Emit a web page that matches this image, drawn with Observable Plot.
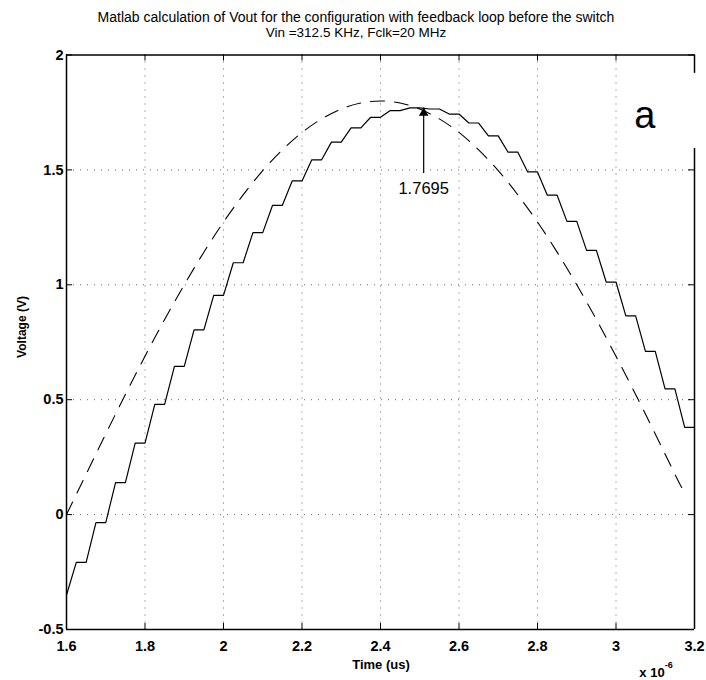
<!DOCTYPE html>
<html><head><meta charset="utf-8">
<script src="https://cdn.jsdelivr.net/npm/d3@7"></script>
<script src="https://cdn.jsdelivr.net/npm/@observablehq/plot@0.6"></script>
<style>
body{margin:0;background:#fff;}
svg{font-family:"Liberation Sans",Arial,Helvetica,sans-serif;}
</style>
</head><body><div id="chart"></div>
<script>
// ---- data ----
const xTicks = [1.6, 1.8, 2.0, 2.2, 2.4, 2.6, 2.8, 3.0, 3.2];   // time (µs, shown as x 10^-6 s)
const yTicks = [-0.5, 0, 0.5, 1, 1.5, 2];                         // voltage (V)

// input sine (dashed)
const inputTime = [1.6,1.65,1.7,1.75,1.8,1.85,1.9,1.95,2.0,2.05,2.1,2.15,2.2,2.25,2.3,2.35,2.4,
                   2.45,2.5,2.55,2.6,2.65,2.7,2.75,2.8,2.85,2.9,2.95,3.0,3.05,3.1,3.15,3.17];
const inputVolt = [0.0,0.176,0.351,0.523,0.689,0.849,1.0,1.142,1.273,1.391,1.497,1.587,1.663,1.722,1.765,1.791,1.8,
                   1.791,1.765,1.722,1.663,1.587,1.497,1.391,1.273,1.142,1.0,0.849,0.689,0.523,0.351,0.176,0.11];

// output staircase (solid): one held level per clock period (Fclk = 20 MHz)
const fclkMHz = 20;
const startTime = 1.6;
const outputStart = -0.35;
const outputLevels = [-0.208,-0.035,0.139,0.311,0.480,0.645,0.804,0.954,1.096,1.227,1.346,1.452,1.544,1.621,1.683,1.729,
                      1.758,1.770,1.765,1.743,1.704,1.648,1.577,1.491,1.390,1.276,1.150,1.012,0.865,0.710,0.547,0.380];

const peakTime = 2.51;
const peakValue = 1.7695;
const arrowBase = 1.484;

// ---- build ----
const period = 1 / fclkMHz; // µs
const stair = [{t: startTime, v: outputStart}];
outputLevels.forEach((v, k) => {
  stair.push({t: startTime + period * k + period / 2, v});
  stair.push({t: startTime + period * (k + 1), v});
});
const input = inputTime.map((t, i) => ({t, v: inputVolt[i]}));

const W = 706, H = 680, mL = 66, mR = 12, mT = 54.5, mB = 51;
const fw = W - mL - mR, fh = H - mT - mB;
const fmt = d => String(d);

const chart = Plot.plot({
  width: W, height: H,
  marginLeft: mL, marginRight: mR, marginTop: mT, marginBottom: mB,
  x: {domain: [1.6, 3.2]},
  y: {domain: [-0.5, 2]},
  style: {background: "white", color: "black", fontFamily: '"Liberation Sans", Arial, sans-serif', overflow: "visible"},
  marks: [
    // dotted grid
    Plot.ruleX(xTicks.slice(1, -1), {stroke: "#666", strokeWidth: 1, strokeDasharray: "1,6"}),
    Plot.ruleY(yTicks.slice(1, -1), {stroke: "#666", strokeWidth: 1, strokeDasharray: "1,6"}),
    // curves
    Plot.line(input, {x: "t", y: "v", curve: "natural", stroke: "black", strokeWidth: 1.1, strokeDasharray: "14,10"}),
    Plot.line(stair, {x: "t", y: "v", stroke: "black", strokeWidth: 1.2}),
    // inward ticks on all four sides
    Plot.ruleX(xTicks, {insetTop: fh - 6, stroke: "black"}),
    Plot.ruleX(xTicks, {insetBottom: fh - 6, stroke: "black"}),
    Plot.ruleY(yTicks, {insetRight: fw - 6, stroke: "black"}),
    Plot.ruleY(yTicks, {insetLeft: fw - 6, stroke: "black"}),
    // box
    Plot.ruleY([-0.5, 2], {stroke: "black", strokeWidth: 1.5}),
    Plot.ruleX([1.6], {stroke: "black", strokeWidth: 1.5}),
    Plot.ruleX([{t: 3.2, a: -0.5, b: 1.593}, {t: 3.2, a: 1.92, b: 2}], {x: "t", y1: "a", y2: "b", stroke: "black", strokeWidth: 1.5}),
    // axes
    Plot.axisX({ticks: xTicks, tickSize: 0, tickPadding: 11, tickFormat: fmt, fontSize: 14.5, fontWeight: "bold", label: null}),
    Plot.axisY({ticks: yTicks, tickSize: 0, tickPadding: 3, tickFormat: fmt, fontSize: 14.5, fontWeight: "bold", label: null}),
    // peak annotation
    Plot.ruleX([{t: peakTime, a: arrowBase, b: peakValue}], {x: "t", y1: "a", y2: "b", stroke: "black", strokeWidth: 1.2}),
    Plot.dot([{t: peakTime, v: peakValue}], {x: "t", y: "v", symbol: "triangle", r: 2.6, fill: "black", stroke: "black", dy: 5}),
    Plot.text([{t: peakTime, v: peakValue}], {x: "t", y: "v", text: d => String(d.v), dy: 80.5, fontSize: 16.5}),
    Plot.text(["a"], {frameAnchor: "top-right", text: d => d, dx: -39, dy: 46, fontSize: 38})
  ]
});
document.getElementById("chart").appendChild(chart);

// titles and axis labels
const svg = d3.select(chart);
svg.append("text").attr("x", 356).attr("y", 22).attr("text-anchor", "middle").attr("font-size", 14)
  .text("Matlab calculation of Vout for the configuration with feedback loop before the switch");
svg.append("text").attr("x", 356).attr("y", 37).attr("text-anchor", "middle").attr("font-size", 13.5)
  .text("Vin =312.5 KHz, Fclk=20 MHz");
svg.append("text").attr("transform", "translate(26,327) rotate(-90)").attr("text-anchor", "middle")
  .attr("font-size", 12).attr("font-weight", "bold").text("Voltage (V)");
svg.append("text").attr("x", 381).attr("y", 669).attr("text-anchor", "middle")
  .attr("font-size", 13).attr("font-weight", "bold").text("Time (us)");
const ex = svg.append("text").attr("x", 656).attr("y", 677).attr("font-size", 13).attr("font-weight", "bold");
ex.append("tspan").text("x 10");
ex.append("tspan").attr("dy", -9).attr("font-size", 9).text("-6");
</script>
</body></html>
